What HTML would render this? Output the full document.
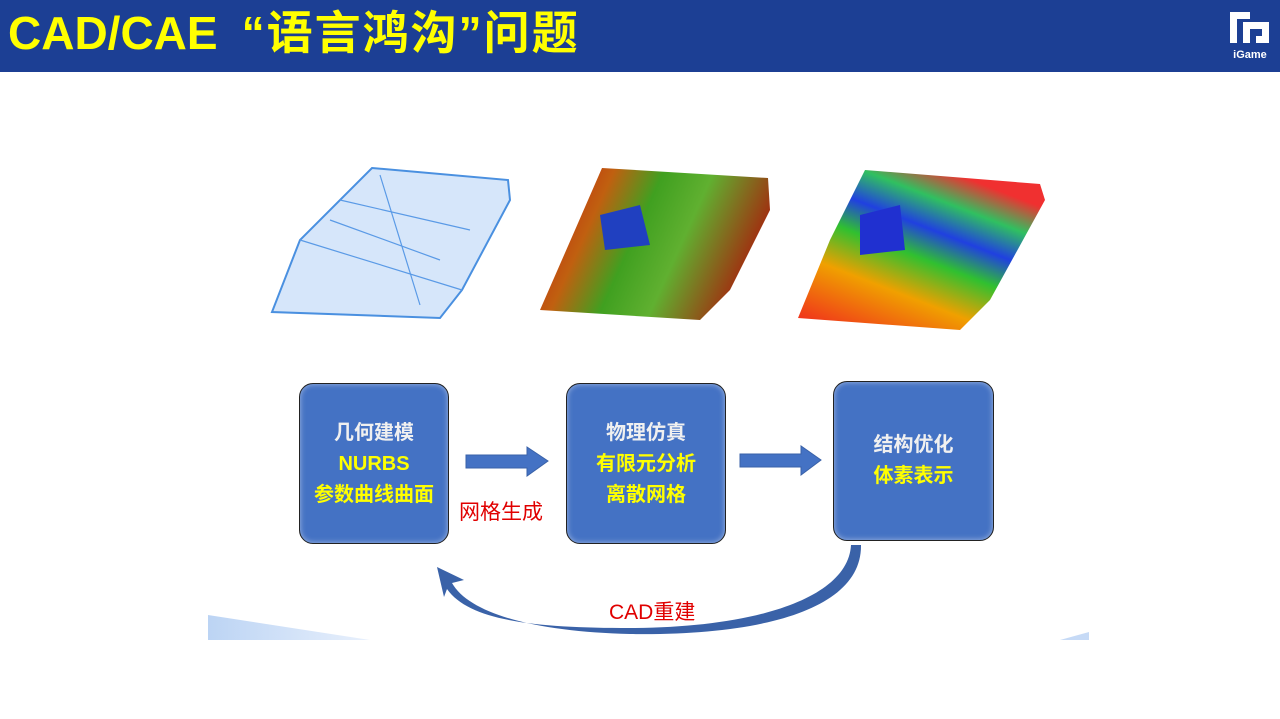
<!DOCTYPE html>
<html><head><meta charset="utf-8"><style>
body{margin:0;width:1280px;height:719px;background:#fff;position:relative;overflow:hidden;font-family:"Liberation Sans","Noto Sans CJK SC",sans-serif}
.hdr{position:absolute;left:0;top:0;width:1280px;height:72px;background:#1c3f94}
.title{position:absolute;left:8px;top:3px;color:#ffff00;font-size:46px;font-weight:bold;line-height:60px;white-space:nowrap}
.box{position:absolute;background:#4472c4;border:1.5px solid #222;border-radius:14px;box-shadow:inset 0 0 6px rgba(255,255,255,.5);text-align:center;font-size:20px;line-height:31px;font-weight:bold}
.w{color:#f0f0f0}.y{color:#ffff00}
.lbl{position:absolute;color:#e00000;font-size:21px;white-space:nowrap}
</style></head><body>
<div class="hdr"></div>
<div class="title">CAD/CAE<span style="display:inline-block;width:24px"></span><span style="letter-spacing:2px">“语言鸿沟”问题</span></div>
<svg style="position:absolute;left:1226px;top:10px" width="48" height="50" viewBox="0 0 48 50">
<path d="M4 2h20v7H11v24H4z M17 12h26v21H30v-7h6v-7H24v14h-7z" fill="#fff"/>
<text x="24" y="48" font-size="11" font-weight="bold" fill="#fff" text-anchor="middle" font-family="Liberation Sans">iGame</text>
</svg>
<svg style="position:absolute;left:0;top:0" width="1280" height="719">
<defs>
<linearGradient id="g2" x1="0" y1="0" x2="1" y2="0.3"><stop offset="0" stop-color="#c01010"/><stop offset="0.3" stop-color="#c06010"/><stop offset="0.5" stop-color="#40a020"/><stop offset="0.7" stop-color="#60b030"/><stop offset="1" stop-color="#a03010"/></linearGradient>
<linearGradient id="g3" x1="0" y1="1" x2="0.6" y2="0"><stop offset="0" stop-color="#f02020"/><stop offset="0.35" stop-color="#f0a000"/><stop offset="0.55" stop-color="#30c030"/><stop offset="0.7" stop-color="#2040e0"/><stop offset="0.85" stop-color="#30c060"/><stop offset="1" stop-color="#f03030"/></linearGradient>
<linearGradient id="bw" x1="0" y1="0" x2="1" y2="0"><stop offset="0" stop-color="#bcd4f4"/><stop offset="1" stop-color="#e8f0fc"/></linearGradient>
</defs>
<path d="M372 168 L508 180 L510 200 L462 290 L440 318 L272 312 L300 240 Z" fill="#d6e6fa" stroke="#4a90e0" stroke-width="2"/>
<path d="M300 240 L462 290 M340 200 L470 230 M380 175 L420 305 M330 220 L440 260" stroke="#5a9ae6" stroke-width="1.2" fill="none"/>
<path d="M602 168 L768 178 L770 210 L730 290 L700 320 L540 310 L575 230 Z" fill="url(#g2)"/>
<path d="M600 215 L640 205 L650 245 L605 250 Z" fill="#2040c0"/>
<path d="M865 170 L1040 184 L1045 200 L990 300 L960 330 L798 318 L830 240 Z" fill="url(#g3)"/>
<path d="M860 215 L900 205 L905 250 L860 255 Z" fill="#2030d0"/>
<path d="M208 615 L370 640 L208 640 Z" fill="url(#bw)"/>
<path d="M1089 632 L1089 640 L1060 640 Z" fill="#c6daf6"/>
<path d="M466 455 H527 V447 L548 461 L527 476 V468 H466 Z" fill="#4472c4" stroke="#3a62a8"/>
<path d="M740 454 H801 V446 L821 460 L801 475 V467 H740 Z" fill="#4472c4" stroke="#3a62a8"/>
<path d="M851 545 L861 545 C862 610 760 636 630 634 C540 632 470 615 452 583 L464 580 L437 567 L444 597 L447 589 C470 622 540 628 630 628 C750 628 848 600 851 545 Z" fill="#3a62a8"/>
</svg>
<div class="box" style="left:299px;top:383px;width:148px;height:159px"><div style="padding-top:34px"><span class="w">几何建模</span><br><span class="y">NURBS</span><br><span class="y">参数曲线曲面</span></div></div>
<div class="box" style="left:566px;top:383px;width:158px;height:159px"><div style="padding-top:34px"><span class="w">物理仿真</span><br><span class="y">有限元分析</span><br><span class="y">离散网格</span></div></div>
<div class="box" style="left:833px;top:381px;width:159px;height:158px"><div style="padding-top:48px"><span class="w">结构优化</span><br><span class="y">体素表示</span></div></div>
<div class="lbl" style="left:459px;top:496px">网格生成</div>
<div class="lbl" style="left:609px;top:596px">CAD重建</div>
</body></html>
